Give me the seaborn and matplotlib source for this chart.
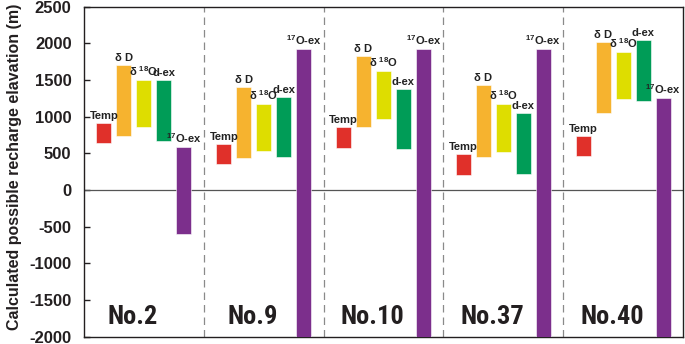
import matplotlib
matplotlib.use("Agg")
import matplotlib.pyplot as plt
from matplotlib import font_manager
import seaborn as sns
import pandas as pd

# ---- data ----
groups = ["No.2", "No.9", "No.10", "No.37", "No.40"]
methods = ["Temp", r"δ D", r"δ $^{\mathbf{18}}$O", "d-ex", r"$^{\mathbf{17}}$O-ex"]
temp_low = [640, 350, 570, 210, 470]
temp_high = [920, 630, 860, 490, 740]
dD_low = [730, 440, 860, 450, 1050]
dD_high = [1710, 1410, 1830, 1430, 2020]
d18O_low = [860, 530, 970, 520, 1240]
d18O_high = [1500, 1170, 1620, 1170, 1880]
dex_low = [670, 450, 555, 220, 1220]
dex_high = [1500, 1270, 1380, 1050, 2050]
o17ex_low = [-600, -2000, -2000, -2000, -2000]
o17ex_high = [590, 1920, 1920, 1920, 1255]
yticks = [2500, 2000, 1500, 1000, 500, 0, -500, -1000, -1500, -2000]

colors = ["#E0302A", "#F6B32F", "#DEDD00", "#009C57", "#7C2F8C"]

lows = [temp_low, dD_low, d18O_low, dex_low, o17ex_low]
highs = [temp_high, dD_high, d18O_high, dex_high, o17ex_high]
rows = []
for gi, g in enumerate(groups):
    for mi, m in enumerate(methods):
        rows.append(dict(group=g, gi=gi, method=m, mi=mi,
                         low=lows[mi][gi], high=highs[mi][gi]))
df = pd.DataFrame(rows)
df["pos"] = df["gi"] * 6 + df["mi"] + 1

sns.set_theme(style="ticks")
fl = font_manager.fontManager.ttflist
names = {f.name for f in fl}
main_font = "Liberation Sans" if "Liberation Sans" in names else "DejaVu Sans"

# find a condensed bold font
cond_props = None
for cand in ["Roboto Condensed", "Liberation Sans Narrow", "Open Sans Condensed"]:
    if cand in names:
        cond_props = dict(family=[cand, "DejaVu Sans"])
        break
if cond_props is None:
    for f in fl:
        if "Condensed" in f.fname and "Bold" in f.fname and "Oblique" not in f.fname \
                and "Italic" not in f.fname and "Sans" in f.fname and "Mono" not in f.fname:
            cond_props = dict(fontproperties=font_manager.FontProperties(fname=f.fname))
            break
if cond_props is None:
    cond_props = dict(family=[main_font, "DejaVu Sans"])

plt.rcParams["font.family"] = [main_font, "DejaVu Sans"]
plt.rcParams["mathtext.fontset"] = "custom"
plt.rcParams["mathtext.rm"] = main_font
plt.rcParams["mathtext.bf"] = main_font + ":bold"

fig = plt.figure(figsize=(6.85, 3.44), dpi=100)
ax = fig.add_axes([84 / 685, 1 - 336.7 / 344, 599 / 685, 330 / 344])

for _, r in df.iterrows():
    ax.bar(r["pos"], r["high"] - r["low"], bottom=r["low"], width=0.75,
           color=colors[r["mi"]], edgecolor="white", linewidth=0.4, zorder=3)
    ax.text(r["pos"], r["high"] + 25, r["method"], ha="center", va="bottom",
            fontsize=8, fontweight="bold", color="#222222", zorder=4)

for gi, g in enumerate(groups):
    t = ax.text(gi * 6 + 2.45, -1827, g, ha="center", va="baseline", fontsize=19,
                color="#231F20", **cond_props)
    t.set_fontweight("bold")
    if gi > 0:
        ax.axvline(gi * 6, color="#8A8A8A", linestyle=(0, (6, 4)), linewidth=0.9, zorder=1)

ax.axhline(0, color="#555555", linewidth=0.9, zorder=2)

ax.set_xlim(0, 30)
ax.set_ylim(-2000, 2500)
ax.set_xticks([])
ax.set_yticks(yticks)
ax.set_yticklabels([str(t) for t in yticks], fontweight="bold", fontsize=12)
ax.tick_params(axis="y", direction="in", length=4, width=1, pad=9, colors="#231F20")
for s in ax.spines.values():
    s.set_color("#231F20")
    s.set_linewidth(1.0)
ax.set_ylabel("Calculated possible recharge elavation (m)", fontsize=11.5,
              fontweight="bold", color="#231F20")
ax.yaxis.set_label_coords(-0.104, 0.515)

fig.savefig("out.png", dpi=100)
